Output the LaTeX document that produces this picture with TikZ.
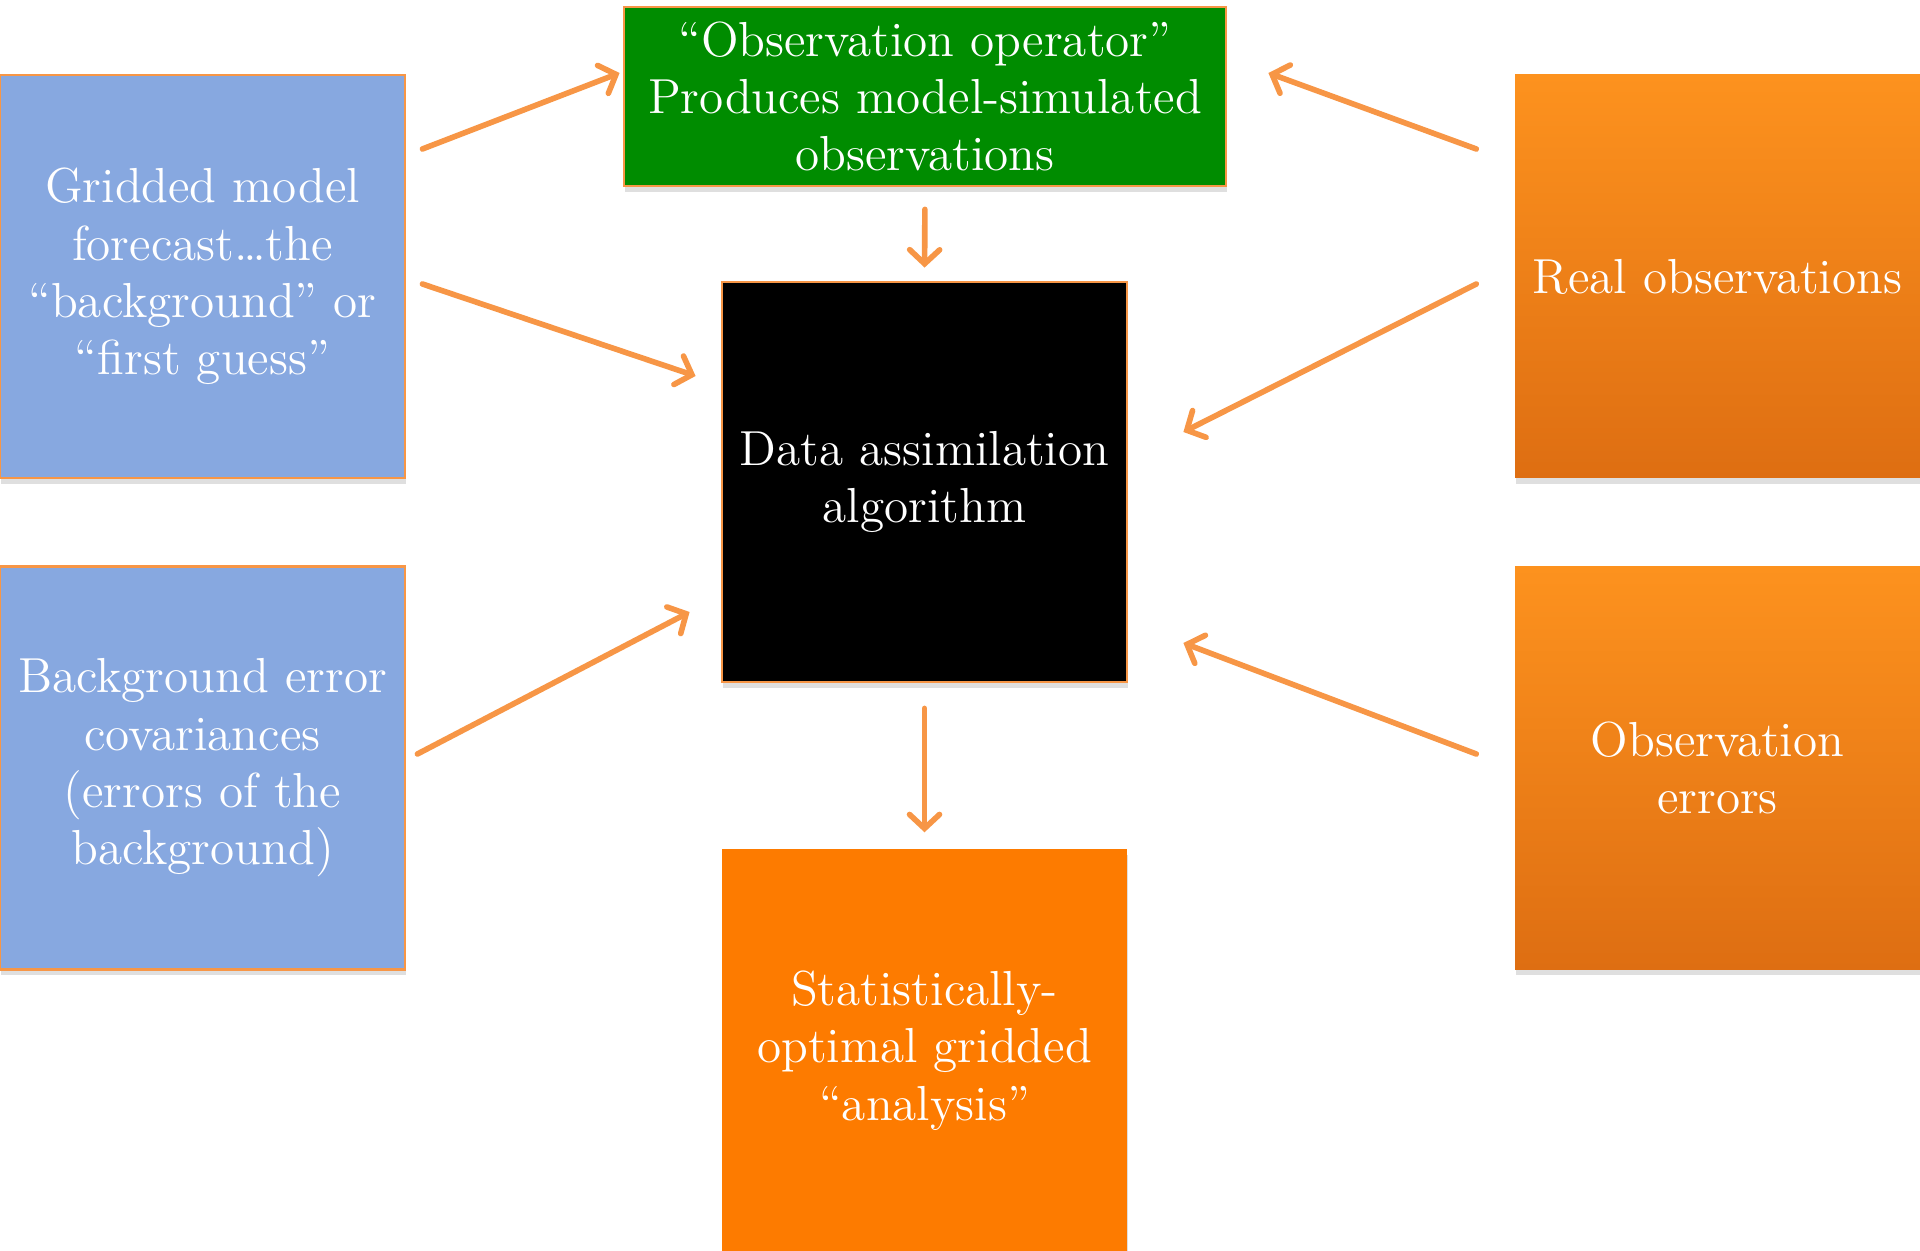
\documentclass[tikz,border=0pt]{standalone}
\usepackage{tikz}
\usetikzlibrary{arrows.meta,shadows}

\definecolor{boxblue}{RGB}{135,168,224}
\definecolor{boxgreen}{RGB}{0,140,0}
\definecolor{boxorange}{RGB}{253,123,0}
\definecolor{gradtop}{RGB}{253,146,30}
\definecolor{gradbot}{RGB}{222,110,18}
\definecolor{edgeorange}{RGB}{247,150,70}

\tikzset{
  box/.style={rectangle, inner sep=0pt, align=center, text=white,
    font=\fontsize{14}{16.3}\selectfont,
    minimum width=4.05cm, minimum height=4.03cm,
    drop shadow={opacity=0.25, shadow xshift=0.4pt, shadow yshift=-1.6pt}},
  framed/.style={draw=edgeorange, line width=0.8pt},
  gradbox/.style={box, top color=gradtop, bottom color=gradbot},
  link/.style={draw=edgeorange, line width=1.6pt, line cap=round,
    -{Straight Barb[length=0.14cm, width=0.3cm, line cap=round]}}
}

\begin{document}
\begin{tikzpicture}

\useasboundingbox (0,0) rectangle (19.2,-12.51);

\node[box, framed, fill=boxblue] (gm) at (2.025,-2.765)
  {Gridded model\\forecast\ldots the\\``background'' or\\``first guess''};
\node[box, framed, fill=boxblue] (bec) at (2.025,-7.68)
  {Background error\\covariances\\(errors of the\\background)};

\node[box, framed, fill=boxgreen, minimum width=6.02cm, minimum height=1.79cm] (obsop) at (9.25,-0.965)
  {``Observation operator''\\Produces model-simulated\\observations};
\node[box, framed, fill=black, minimum height=4.0cm] (da) at (9.245,-4.82)
  {Data assimilation\\algorithm};
\node[box, fill=boxorange] (ana) at (9.245,-10.505)
  {Statistically-\\optimal gridded\\``analysis''};

\node[gradbox] (robs) at (17.175,-2.765) {Real observations};
\node[gradbox] (oerr) at (17.175,-7.68) {Observation\\errors};

% inputs from the left
\draw[link] ([xshift=0.16cm, yshift=1.275cm]gm.east) -- ([xshift=-0.03cm, yshift=0.235cm]obsop.west);
\draw[link] ([xshift=0.16cm, yshift=-0.075cm]gm.east) -- ([xshift=-0.25cm, yshift=1.06cm]da.west);
\draw[link] ([xshift=0.11cm, yshift=0.14cm]bec.east) -- ([xshift=-0.31cm, yshift=-1.30cm]da.west);

% inputs from the right
\draw[link] ([xshift=-0.38cm, yshift=1.275cm]robs.west) -- ([xshift=0.41cm, yshift=0.235cm]obsop.east);
\draw[link] ([xshift=-0.38cm, yshift=-0.075cm]robs.west) -- ([xshift=0.55cm, yshift=0.50cm]da.east);
\draw[link] ([xshift=-0.38cm, yshift=0.14cm]oerr.west) -- ([xshift=0.55cm, yshift=-1.61cm]da.east);

% down the middle
\draw[link, shorten <=0.22cm, shorten >=0.13cm] (obsop.south) -- (da.north);
\draw[link, shorten <=0.25cm, shorten >=0.16cm] (da.south) -- (ana.north);

\end{tikzpicture}
\end{document}
